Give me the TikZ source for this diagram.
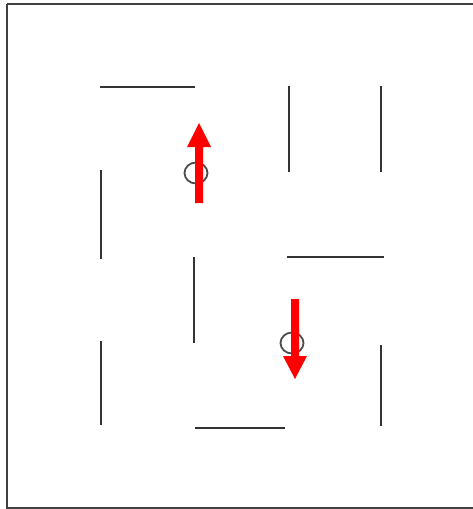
\documentclass[tikz,border=0pt]{standalone}
\begin{document}
\begin{tikzpicture}[x=1pt,y=-1pt,
  wall/.style={line width=2pt,draw=black!80},
  frame/.style={line width=2pt,draw=black!75},
  marker/.style={line width=1.8pt,draw=black!70},
  redarrow/.style={fill=red,draw=none}]
\useasboundingbox (0,0) rectangle (473,509);
% frame
\draw[frame] (7,4) -- (476,4);
\draw[frame] (7,4) -- (7,508) -- (476,508);
% walls
\draw[wall] (100,87) -- (195,87);
\draw[wall] (289,86) -- (289,172);
\draw[wall] (381,86) -- (381,172);
\draw[wall] (101,170) -- (101,259);
\draw[wall] (287,257) -- (384,257);
\draw[wall] (194,257) -- (194,343);
\draw[wall] (101,341) -- (101,425);
\draw[wall] (381,345) -- (381,426);
\draw[wall] (195,428) -- (285,428);
% markers
\draw[marker] (196,173) ellipse [x radius=11.5, y radius=10.5];
\draw[marker] (292,343) ellipse [x radius=11.5, y radius=10.5];
% arrows
\fill[redarrow] (195,203) -- (195,147) -- (187,147) -- (199,123) -- (211,147) -- (203,147) -- (203,203) -- cycle;
\fill[redarrow] (291,299) -- (291,356) -- (283,356) -- (295,379) -- (307,356) -- (299,356) -- (299,299) -- cycle;
\end{tikzpicture}
\end{document}
